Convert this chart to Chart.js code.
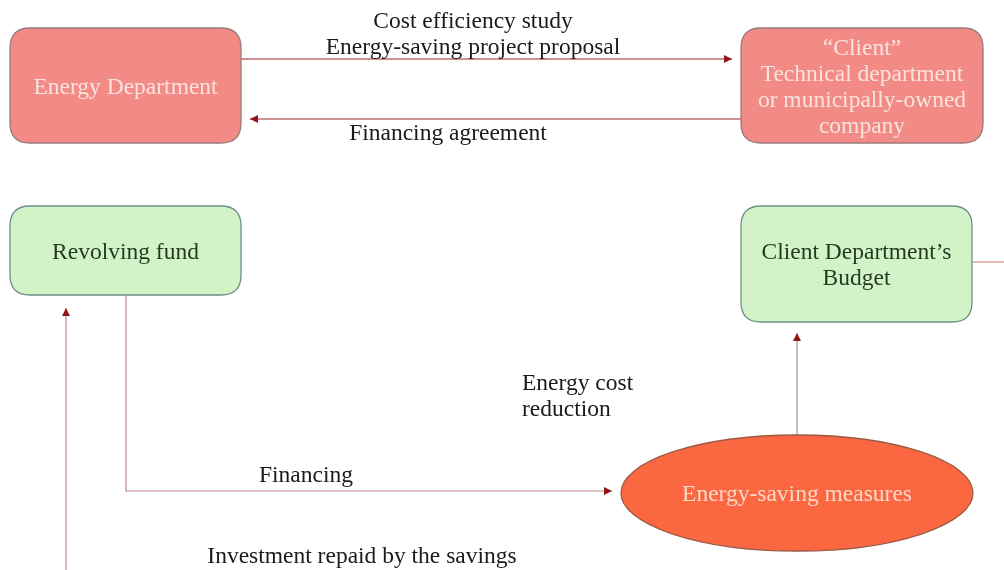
<!DOCTYPE html>
<html>
<head>
<meta charset="utf-8">
<script src="https://cdn.jsdelivr.net/npm/chart.js@4"></script>
<style>
  html, body { margin: 0; padding: 0; background: #fff; }
  #wrap { width: 1004px; height: 570px; }
</style>
</head>
<body>
<div id="wrap"><canvas id="flow" width="1004" height="570"></canvas></div>
<script>
// 図のノード（ラベル）
const nodeLabels = [
  ["Energy Department"],
  ["\u201CClient\u201D", "Technical department", "or municipally-owned", "company"],
  ["Revolving fund"],
  ["Client Department\u2019s", "Budget"],
  ["Energy-saving measures"]
];
const nodeKinds = ["box", "box", "box", "box", "ellipse"];
const nodeGroups = ["red", "red", "green", "green", "orange"];

// 矢印のラベル
const edgeLabels = [
  ["Cost efficiency study", "Energy-saving project proposal"],
  ["Financing agreement"],
  ["Financing"],
  ["Energy cost", "reduction"],
  ["Investment repaid by the savings"]
];

// レイアウト（図の座標系 0..1004 x 0..570）
const layout = {
  nodes: [
    { x: 10, y: 28, w: 231, h: 115 },
    { x: 741, y: 28, w: 242, h: 115 },
    { x: 10, y: 206, w: 231, h: 89 },
    { x: 741, y: 206, w: 231, h: 116 },
    { cx: 797, cy: 493, rx: 176, ry: 58 }
  ],
  edges: [
    { pts: [[241, 59], [732, 59]], color: '#9b2424', head: true },
    { pts: [[741, 119], [250, 119]], color: '#9b2424', head: true },
    { pts: [[126, 295], [126, 491], [612, 491]], color: '#c08787', head: true },
    { pts: [[797, 434], [797, 333]], color: '#a09898', head: true },
    { pts: [[66, 572], [66, 308]], color: '#b58a8a', head: true },
    { pts: [[972, 262], [1004, 262]], color: '#d98a8a', head: false }
  ],
  labels: [
    { x: 473, y: 21, align: 'center', lh: 26 },
    { x: 448, y: 133, align: 'center', lh: 26 },
    { x: 306, y: 475, align: 'center', lh: 26 },
    { x: 522, y: 383, align: 'left', lh: 26 },
    { x: 362, y: 556, align: 'center', lh: 26 }
  ]
};

const styles = {
  red:    { fill: '#f28b86', stroke: '#9a7a7a', text: '#fbe2dd' },
  green:  { fill: '#d3f2c8', stroke: '#6f8f88', text: '#1f3a1f' },
  orange: { fill: '#fa6740', stroke: '#9c5a44', text: '#fcd8c6' }
};
const FAMILY = '"Liberation Serif", "DejaVu Serif", serif';

// 参照画像の文字幅に合わせてフォントサイズを決める
function fitFont(ctx) {
  ctx.font = '100px ' + FAMILY;
  const w = ctx.measureText('Energy-saving project proposal').width;
  const size = Math.min(26, Math.max(16, 100 * 294 / w));
  return size.toFixed(1) + 'px ' + FAMILY;
}

function roundRect(ctx, x, y, w, h, r) {
  ctx.beginPath();
  ctx.moveTo(x + r, y);
  ctx.lineTo(x + w - r, y);
  ctx.quadraticCurveTo(x + w, y, x + w, y + r);
  ctx.lineTo(x + w, y + h - r);
  ctx.quadraticCurveTo(x + w, y + h, x + w - r, y + h);
  ctx.lineTo(x + r, y + h);
  ctx.quadraticCurveTo(x, y + h, x, y + h - r);
  ctx.lineTo(x, y + r);
  ctx.quadraticCurveTo(x, y, x + r, y);
  ctx.closePath();
}

const flowPlugin = {
  id: 'flow',
  afterDatasetsDraw(chart) {
    const ctx = chart.ctx;
    const sx = chart.scales.x, sy = chart.scales.y;
    const px = v => sx.getPixelForValue(v);
    const py = v => sy.getPixelForValue(v);
    ctx.save();
    const font = fitFont(ctx);

    // 矢印
    layout.edges.forEach(e => {
      ctx.strokeStyle = e.color;
      ctx.lineWidth = 1.2;
      ctx.beginPath();
      e.pts.forEach((p, i) => {
        if (i === 0) ctx.moveTo(px(p[0]), py(p[1]));
        else ctx.lineTo(px(p[0]), py(p[1]));
      });
      ctx.stroke();
      if (e.head) {
        const a = e.pts[e.pts.length - 2], b = e.pts[e.pts.length - 1];
        const x1 = px(a[0]), y1 = py(a[1]), x2 = px(b[0]), y2 = py(b[1]);
        const ang = Math.atan2(y2 - y1, x2 - x1);
        const L = 8, W = 4;
        ctx.fillStyle = '#8e1616';
        ctx.beginPath();
        ctx.moveTo(x2, y2);
        ctx.lineTo(x2 - L * Math.cos(ang) + W * Math.sin(ang), y2 - L * Math.sin(ang) - W * Math.cos(ang));
        ctx.lineTo(x2 - L * Math.cos(ang) - W * Math.sin(ang), y2 - L * Math.sin(ang) + W * Math.cos(ang));
        ctx.closePath();
        ctx.fill();
      }
    });

    // ノード
    ctx.font = font;
    ctx.textBaseline = 'middle';
    nodeLabels.forEach((lines, i) => {
      const st = styles[nodeGroups[i]];
      const n = layout.nodes[i];
      let cx, cy;
      ctx.fillStyle = st.fill;
      ctx.strokeStyle = st.stroke;
      ctx.lineWidth = 1.3;
      if (nodeKinds[i] === 'ellipse') {
        cx = px(n.cx); cy = py(n.cy);
        ctx.beginPath();
        ctx.ellipse(cx, cy, px(n.cx + n.rx) - cx, py(n.cy + n.ry) - cy, 0, 0, Math.PI * 2);
        ctx.fill();
        ctx.stroke();
      } else {
        const x0 = px(n.x), y0 = py(n.y), x1 = px(n.x + n.w), y1 = py(n.y + n.h);
        roundRect(ctx, x0, y0, x1 - x0, y1 - y0, 20);
        ctx.fill();
        ctx.stroke();
        cx = (x0 + x1) / 2; cy = (y0 + y1) / 2;
      }
      ctx.fillStyle = st.text;
      ctx.textAlign = 'center';
      const lh = 26;
      lines.forEach((t, k) => {
        ctx.fillText(t, cx, cy + 2 + (k - (lines.length - 1) / 2) * lh);
      });
    });

    // 矢印ラベル
    ctx.fillStyle = '#1a1a1a';
    edgeLabels.forEach((lines, i) => {
      const l = layout.labels[i];
      ctx.textAlign = l.align;
      lines.forEach((t, k) => {
        ctx.fillText(t, px(l.x), py(l.y + 1 + k * l.lh));
      });
    });
    ctx.restore();
  }
};

new Chart(document.getElementById('flow'), {
  type: 'scatter',
  data: { datasets: [{ data: [], pointRadius: 0 }] },
  options: {
    responsive: false,
    animation: false,
    events: [],
    layout: { padding: 0 },
    plugins: { legend: { display: false }, tooltip: { enabled: false } },
    scales: {
      x: { type: 'linear', min: 0, max: 1004, display: false },
      y: { type: 'linear', min: 0, max: 570, reverse: true, display: false }
    }
  },
  plugins: [flowPlugin]
});
</script>
</body>
</html>
